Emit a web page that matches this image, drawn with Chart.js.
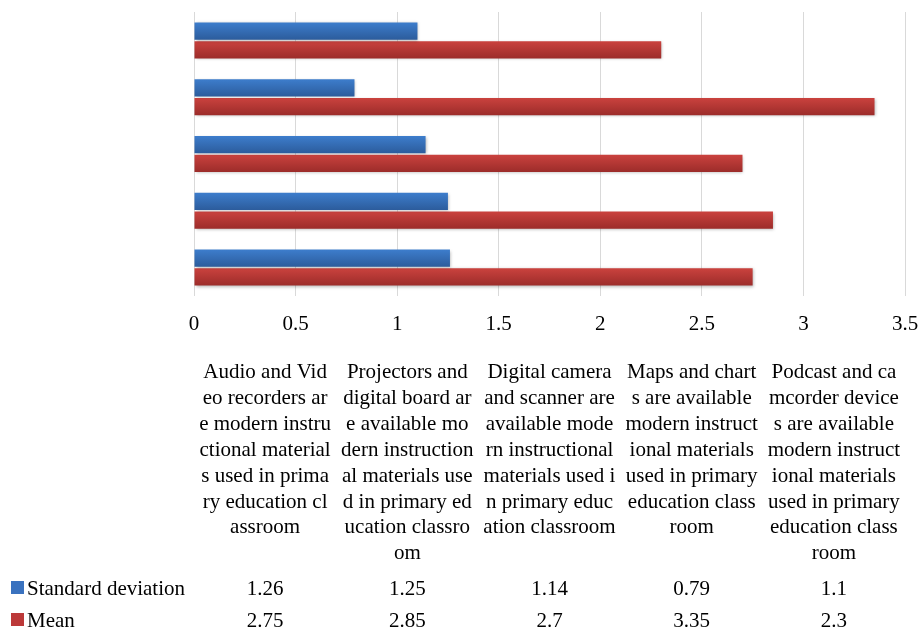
<!DOCTYPE html>
<html>
<head>
<meta charset="utf-8">
<script src="https://cdn.jsdelivr.net/npm/chart.js@4"></script>
<style>
  html, body { margin: 0; padding: 0; background: #fff; }
  #wrap { width: 920px; height: 632px; }
</style>
</head>
<body>
<div id="wrap"><canvas id="chart"></canvas></div>
<script>
// Category labels, wrapped the way the original table wraps them
const categories = [
    ['Audio and Vid', 'eo recorders ar', 'e modern instru', 'ctional material', 's used in prima', 'ry education cl', 'assroom'],
    ['Projectors and', 'digital board ar', 'e available mo', 'dern instruction', 'al materials use', 'd in primary ed', 'ucation classro', 'om'],
    ['Digital camera', 'and scanner are', 'available mode', 'rn instructional', 'materials used i', 'n primary educ', 'ation classroom'],
    ['Maps and chart', 's are available', 'modern instruct', 'ional materials', 'used in primary', 'education class', 'room'],
    ['Podcast and ca', 'mcorder device', 's are available', 'modern instruct', 'ional materials', 'used in primary', 'education class', 'room']
];
const seriesNames = ['Standard deviation', 'Mean'];
const stdDev = [1.26, 1.25, 1.14, 0.79, 1.1];
const means = [2.75, 2.85, 2.7, 3.35, 2.3];
const xMin = 0;
const xMax = 3.5;
const xStep = 0.5;

// bar colours: flat key colour, plus top/bottom of the bar gradient
const seriesColors = ['#3a72bf', '#bc3939'];
const gradientTops = ['#3d7dcc', '#ca423e'];
const gradientBottoms = ['#2c5c9c', '#9c2c2a'];
const fontFamily = '"Liberation Serif", "Times New Roman", serif';
const fontSize = 21;

// Excel-like shading: vertical gradient per bar and a soft shadow
const barStylePlugin = {
    id: 'barStyle',
    beforeDatasetsDraw(chart) {
        const ctx = chart.ctx;
        chart.data.datasets.forEach((ds, di) => {
            chart.getDatasetMeta(di).data.forEach(bar => {
                const top = bar.y - bar.height / 2;
                const g = ctx.createLinearGradient(0, top, 0, top + bar.height);
                g.addColorStop(0, gradientTops[di]);
                g.addColorStop(1, gradientBottoms[di]);
                bar.options.backgroundColor = g;
            });
        });
        ctx.save();
        ctx.shadowColor = 'rgba(0, 0, 0, 0.28)';
        ctx.shadowBlur = 3;
        ctx.shadowOffsetX = 1;
        ctx.shadowOffsetY = 1;
    },
    afterDatasetsDraw(chart) {
        chart.ctx.restore();
    }
};

// Tick labels plus the data table under the axis (category names, values, legend keys)
const dataTablePlugin = {
    id: 'dataTable',
    afterDraw(chart) {
        const ctx = chart.ctx;
        const area = chart.chartArea;
        const xScale = chart.scales.x;
        const colWidth = area.width / categories.length;
        const lineHeight = 25.9;
        ctx.save();
        ctx.font = fontSize + 'px ' + fontFamily;
        ctx.fillStyle = '#000';
        ctx.textAlign = 'center';
        ctx.textBaseline = 'alphabetic';

        xScale.ticks.forEach(t => {
            ctx.fillText(String(t.value), xScale.getPixelForValue(t.value), 330);
        });

        categories.forEach((lines, i) => {
            const cx = area.left + colWidth * (i + 0.5);
            lines.forEach((line, j) => {
                ctx.fillText(line, cx, 378 + j * lineHeight);
            });
        });

        const rows = [stdDev, means];
        const rowY = [595, 627];
        rows.forEach((values, r) => {
            // legend key
            ctx.fillStyle = seriesColors[r];
            ctx.fillRect(11, rowY[r] - 14, 13, 13);
            ctx.fillStyle = '#000';
            ctx.textAlign = 'left';
            ctx.fillText(seriesNames[r], 27, rowY[r]);
            ctx.textAlign = 'center';
            values.forEach((v, i) => {
                const cx = area.left + colWidth * (i + 0.5);
                ctx.fillText(String(v), cx, rowY[r]);
            });
        });
        ctx.restore();
    }
};

new Chart(document.getElementById('chart'), {
    type: 'bar',
    data: {
        labels: categories,
        datasets: [{
            label: seriesNames[0],
            data: stdDev,
            backgroundColor: ctx => seriesColors[ctx.datasetIndex]
        }, {
            label: seriesNames[1],
            data: means,
            backgroundColor: ctx => seriesColors[ctx.datasetIndex]
        }]
    },
    options: {
        indexAxis: 'y',
        responsive: true,
        maintainAspectRatio: false,
        animation: false,
        events: [],
        layout: {
            padding: { left: 194, right: 15, top: 12, bottom: 0 }
        },
        datasets: {
            bar: {
                categoryPercentage: 0.66,
                barPercentage: 0.92
            }
        },
        plugins: {
            legend: { display: false },
            tooltip: { enabled: false }
        },
        scales: {
            x: {
                min: xMin,
                max: xMax,
                ticks: {
                    stepSize: xStep,
                    display: false
                },
                grid: {
                    color: '#d9d9d9',
                    drawTicks: false
                },
                border: { display: false },
                afterFit(scale) {
                    scale.height = 632 - 296;
                }
            },
            y: {
                reverse: true,
                display: false,
                grid: { display: false }
            }
        }
    },
    plugins: [barStylePlugin, dataTablePlugin]
});
</script>
</body>
</html>
